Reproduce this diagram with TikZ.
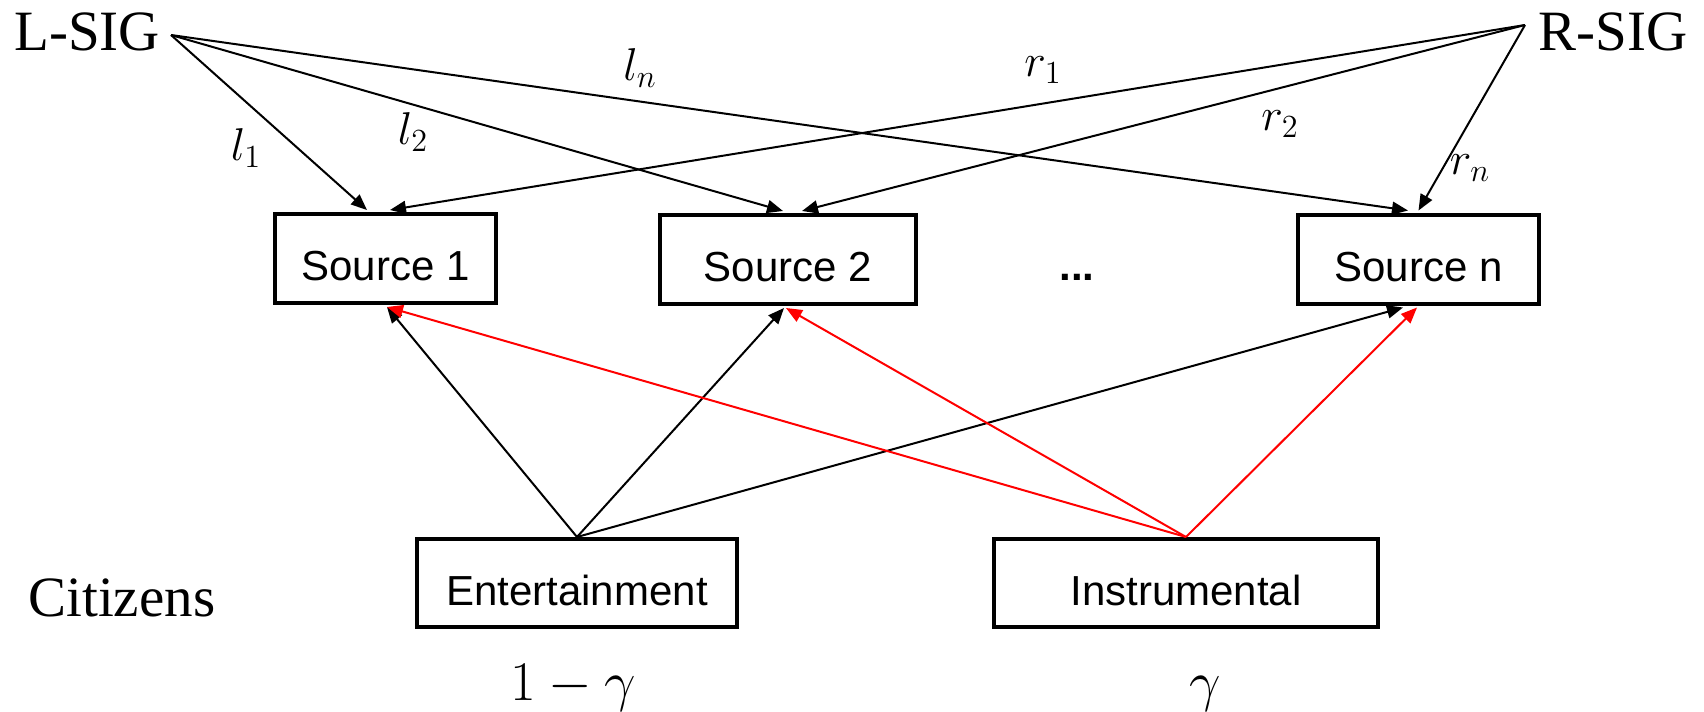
\RequirePackage{fix-cm}
\documentclass[tikz,border=0pt]{standalone}
\usepackage{fontspec}
\setmainfont{Liberation Serif}
\newfontfamily\arialf{Liberation Sans}
\usetikzlibrary{arrows.meta}
\begin{document}
\begin{tikzpicture}[x=0.5pt,y=-0.5pt,
  box/.style={draw, line width=2pt, font=\arialf\fontsize{21}{25}\selectfont,
    text height=22pt, text depth=0pt, inner sep=0pt, minimum height=44.5pt},
  conn/.style={line width=1pt, -{Triangle[length=8pt,width=6.5pt]}},
  redconn/.style={conn, red},
  lab/.style={font=\fontsize{23}{27}\selectfont, inner sep=0pt},
  big/.style={font=\fontsize{28.5}{34}\selectfont, inner sep=0pt},
  gam/.style={font=\fontsize{28}{34}\selectfont, inner sep=0pt}]
\useasboundingbox (0,0) rectangle (1704,712);

% text nodes
\node[big, anchor=base west] (lsig) at (14,50) {L-SIG};
\node[big, anchor=base west] (rsig) at (1538,50) {R-SIG};
\node[big, anchor=base west] (cit) at (28,616) {Citizens};

% boxes
\node[box, minimum width=110.5pt] (s1) at (385.5,258.5) {Source 1};
\node[box, minimum width=128pt] (s2) at (788,259.5) {Source 2};
\node[box, minimum width=120.5pt] (sn) at (1418.5,259) {Source n};
\node[font=\arialf\bfseries\fontsize{21}{25}\selectfont, anchor=base, inner sep=0pt] (dots) at (1077,280) {...};
\node[box, minimum width=160pt, minimum height=44pt] (ent) at (577,583) {Entertainment};
\node[box, minimum width=192pt, minimum height=44pt] (ins) at (1186,583) {Instrumental};

% origins of the SIG connectors
\coordinate (lo) at (171,35);
\coordinate (ro) at (1525,25);

% SIG arrows
\draw[conn] (lo) -- ([xshift=-9.25pt,yshift=1pt]s1.north);
\draw[conn] (lo) -- ([xshift=-2.5pt,yshift=1pt]s2.north);
\draw[conn] (lo) -- ([xshift=-5.25pt,yshift=1pt]sn.north);
\draw[conn] (ro) -- ([xshift=2.25pt,yshift=1pt]s1.north);
\draw[conn] (ro) -- ([xshift=7pt,yshift=1pt]s2.north);
\draw[conn] (ro) -- ([yshift=1pt]sn.north);

% citizen arrows
\draw[conn] (ent.north) -- ([xshift=0.75pt,yshift=-1pt]s1.south);
\draw[conn] (ent.north) -- ([xshift=-2pt,yshift=-1pt]s2.south);
\draw[conn] (ent.north) -- ([xshift=-7.75pt,yshift=-1pt]sn.south);
\draw[redconn] (ins.north) -- ([xshift=0.75pt,yshift=-1pt]s1.south);
\draw[redconn] (ins.north) -- ([xshift=-1pt,yshift=-1pt]s2.south);
\draw[redconn] (ins.north) -- ([xshift=-0.75pt,yshift=-1pt]sn.south);

% labels
\node[lab] (l1) at (246,148) {$l_1$};
\node[lab] (l2) at (413,132) {$l_2$};
\node[lab] (ln) at (640,68) {$l_n$};
\node[lab] (r1) at (1043,70) {$r_1$};
\node[lab] (r2) at (1280,124) {$r_2$};
\node[lab] (rn) at (1470,168) {$r_n$};
\node[gam, anchor=base] (g1) at (573,700) {$1-\gamma$};
\node[gam, anchor=base] (g2) at (1205,700) {$\gamma$};
\end{tikzpicture}
\end{document}
